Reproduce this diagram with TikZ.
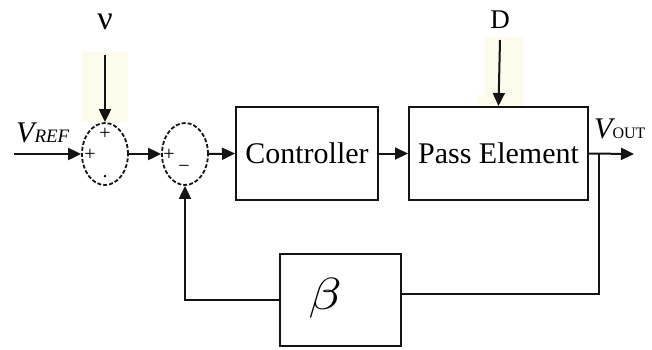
\documentclass[tikz,border=0pt]{standalone}
\usepackage{fontspec}
\setmainfont{Liberation Serif}
\usetikzlibrary{shapes.geometric,arrows.meta,calc}
\definecolor{pale}{RGB}{253,252,234}
\definecolor{ink}{RGB}{20,20,20}
\begin{document}
\begin{tikzpicture}[x=1pt,y=-1pt,
  wire/.style={line width=2pt,draw=ink},
  sig/.style={wire,-{Triangle[length=13pt,width=12pt]}},
  sumnode/.style={ellipse,draw=ink,line width=1.8pt,dash pattern=on 4pt off 2pt,
    minimum width=46pt,minimum height=62pt,inner sep=0pt},
  blockbox/.style={rectangle,draw=ink,line width=2pt,inner sep=0pt,
    font=\fontsize{30}{34}\selectfont},
  sgn/.style={font=\fontsize{20}{20}\selectfont,inner sep=0pt},
  lbl/.style={inner sep=0pt}]
\useasboundingbox (0,0) rectangle (652,349);
% pale backgrounds behind the two disturbance inputs
\fill[pale] (82,52) rectangle (128,122);
\fill[pale] (485,37) rectangle (523,107);
\fill[pale] (478,95) rectangle (523,107);

% summing junctions
\node[sumnode] (s1) at (105,154) {};
\node[sumnode] (s2) at (185,154) {};
\node[sgn] at (105,134) {+};
\node[sgn] at (90,155) {+};
\node[sgn] at (105,177) {.};
\node[sgn] at (169,155) {+};
\node[sgn] at (184,169) {\textminus};

% blocks
\node[blockbox,minimum width=142pt,minimum height=93pt] (ctrl) at (307,153.5) {Controller};
\node[blockbox,minimum width=179pt,minimum height=93pt] (pe) at (498.5,153.5) {Pass Element};
\node[blockbox,minimum width=121pt,minimum height=92pt] (beta) at (340.5,300) {};
\node[lbl] at (325,298) {\scalebox{5.4}[4.5]{$\beta$}};

% input labels and free ends
\coordinate (vin) at (14,154);
\coordinate (nuin) at (105,55);
\coordinate (din) at (500,40);
\coordinate (br) at (599,154);
\coordinate (vout) at (634,154);
\node[lbl,font=\fontsize{34}{34}\selectfont] at (105,22) {ν};
\node[lbl,font=\fontsize{27}{27}\selectfont] at (500,20) {D};
\node[lbl,anchor=base west] at (16,142)
  {{\fontsize{30}{30}\selectfont\itshape V}{\fontsize{19}{19}\selectfont\itshape REF}};
\node[lbl,anchor=base west] at (594,138)
  {{\fontsize{30}{30}\selectfont\itshape V}{\fontsize{16}{16}\selectfont OUT}};

% forward path
\draw[sig] (vin) -- (s1.west);
\draw[sig] (nuin) -- (s1.north);
\draw[sig] (s1.east) -- (s2.west);
\draw[sig] (s2.east) -- (ctrl.west);
\draw[sig] (ctrl.east) -- (pe.west);
\draw[sig] (din) -- (pe.north);
\draw[sig] (pe.east) -- (vout);

% feedback path
\draw[wire] (br) |- ([yshift=6pt]beta.east);
\draw[sig] (beta.west) -| (s2.south);
\end{tikzpicture}
\end{document}
